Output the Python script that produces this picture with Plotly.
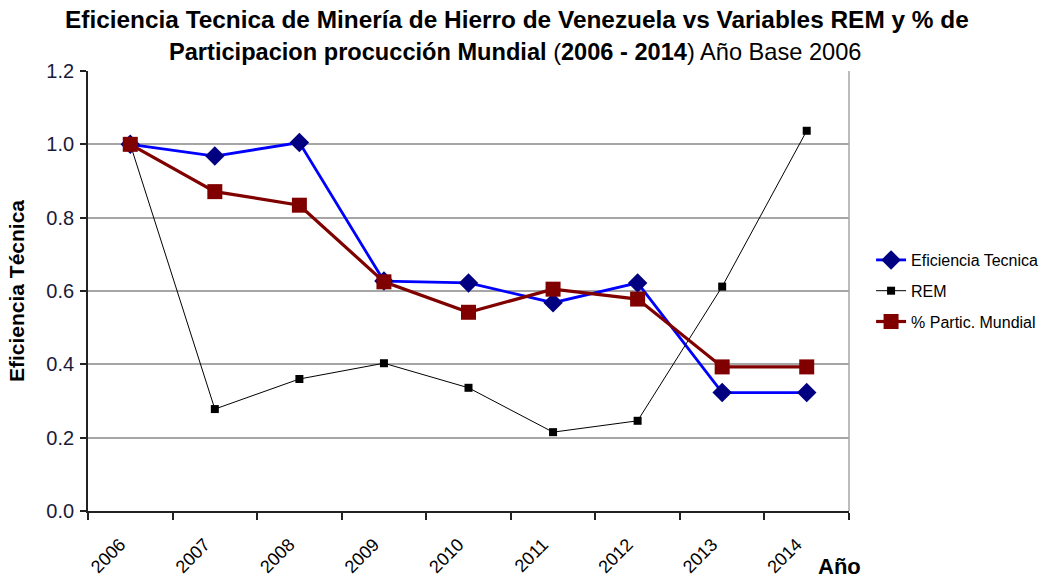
import plotly.graph_objects as go

years = ["2006", "2007", "2008", "2009", "2010", "2011", "2012", "2013", "2014"]
eficiencia = [1.0, 0.968, 1.005, 0.627, 0.622, 0.568, 0.622, 0.323, 0.323]
rem = [1.0, 0.278, 0.360, 0.403, 0.336, 0.215, 0.246, 0.612, 1.037]
partic = [1.0, 0.871, 0.834, 0.625, 0.542, 0.605, 0.578, 0.393, 0.393]
y_ticks = [0.0, 0.2, 0.4, 0.6, 0.8, 1.0, 1.2]
y_tick_labels = ["0.0", "0.2", "0.4", "0.6", "0.8", "1.0", "1.2"]

fig = go.Figure()
fig.add_trace(go.Scatter(
    x=years, y=eficiencia, name="Eficiencia Tecnica", mode="lines+markers",
    legendgroup="a",
    line=dict(color="#0000FF", width=2.8),
    marker=dict(symbol="diamond", size=15, color="#000080"),
))
fig.add_trace(go.Scatter(
    x=years, y=rem, name="REM", mode="lines+markers",
    legendgroup="b",
    line=dict(color="#000000", width=1),
    marker=dict(symbol="square", size=8, color="#000000"),
))
fig.add_trace(go.Scatter(
    x=years, y=partic, name="% Partic. Mundial", mode="lines+markers",
    legendgroup="c",
    line=dict(color="#800000", width=3.2),
    marker=dict(symbol="square", size=15, color="#800000"),
))

title_line1 = "<b>Eficiencia Tecnica de Minería de Hierro de Venezuela vs Variables REM y % de</b>"
title_line2 = "<b>Participacion procucción Mundial </b>(<b>2006 - 2014</b>) Año Base 2006"

fig.update_layout(
    width=1061, height=578,
    paper_bgcolor="white", plot_bgcolor="white",
    margin=dict(l=88, r=212, t=71, b=67, autoexpand=False),
    font=dict(family="Liberation Sans, Arial, sans-serif", color="#000000"),
    showlegend=True,
    legend=dict(x=1.029, xanchor="left", y=0.5, yanchor="middle",
                font=dict(size=16, color="#000000"),
                bgcolor="rgba(0,0,0,0)", tracegroupgap=7, traceorder="grouped"),
    xaxis=dict(
        type="category", tickson="boundaries", ticks="outside", ticklen=7,
        tickcolor="#222222", tickwidth=1.5,
        showline=True, linecolor="#222222", linewidth=1.8, showgrid=False,
        tickangle=-45, tickfont=dict(size=18), ticklabelstandoff=14,
        ticklabelshift=-10,
        range=[-0.5, 8.5], zeroline=False,
    ),
    yaxis=dict(
        range=[0, 1.2], tickvals=y_ticks, ticktext=y_tick_labels,
        ticks="outside", ticklen=6, tickcolor="#222222", tickwidth=1.5,
        showline=True, linecolor="#222222", linewidth=1.8,
        showgrid=True, gridcolor="#A6A6A6", gridwidth=1.5, zeroline=False,
        tickfont=dict(size=20, color="#1a1a3a"), ticklabelstandoff=2,
        title=dict(text="<b>Eficiencia Técnica</b>", font=dict(size=21), standoff=16),
    ),
)

# gray right border of plot area
fig.add_shape(type="line", xref="paper", yref="paper", x0=1, x1=1, y0=0, y1=1,
              line=dict(color="#A6A6A6", width=1.5))

# two-line title
fig.add_annotation(text=title_line1, xref="paper", yref="paper", x=(517 - 88) / 761,
                   y=(511 - 20) / 440, xanchor="center", yanchor="middle", showarrow=False,
                   font=dict(size=24.4, color="#000000"))
fig.add_annotation(text=title_line2, xref="paper", yref="paper", x=(515 - 88) / 761,
                   y=(511 - 52) / 440, xanchor="center", yanchor="middle", showarrow=False,
                   font=dict(size=23.6, color="#000000"))

fig.add_annotation(text="<b>Año</b>", xref="paper", yref="paper", x=0.988, y=-0.125,
                   xanchor="center", yanchor="middle", showarrow=False,
                   font=dict(size=22, color="#000000"))

fig.write_html("out.html", config={"displayModeBar": False},
               post_script="document.body.style.margin='0';")
